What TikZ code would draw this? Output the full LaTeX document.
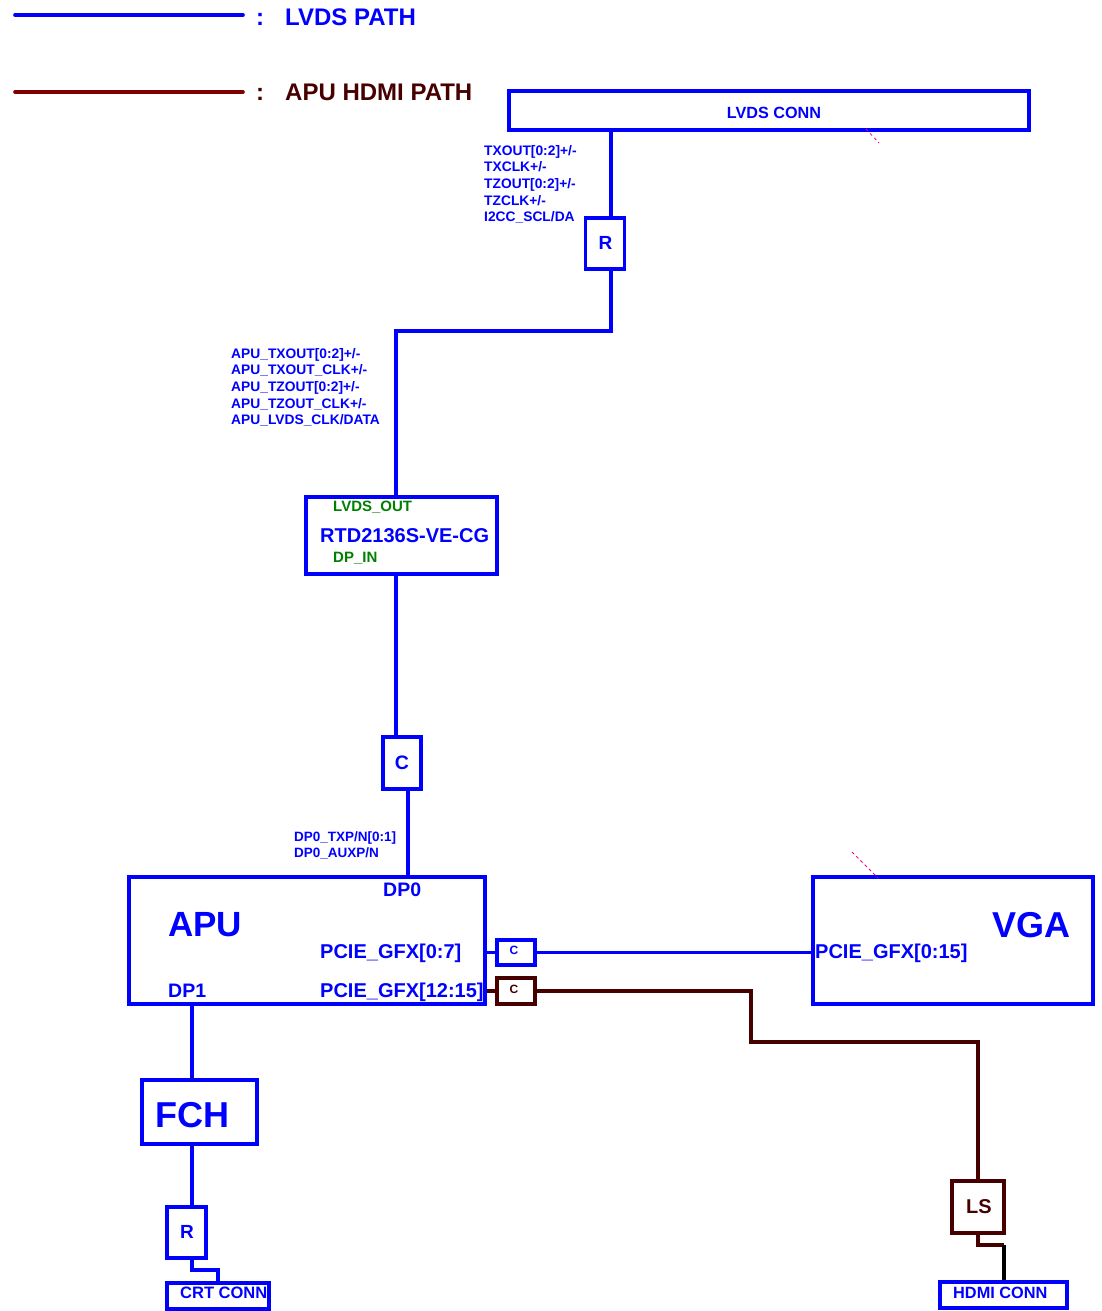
\documentclass[tikz,border=0pt]{standalone}
\usepackage{fontspec}
\setmainfont{Liberation Sans}
\definecolor{dkbrown}{RGB}{70,0,0}
\definecolor{legred}{RGB}{128,0,0}
\definecolor{grn}{RGB}{0,128,0}
\newcommand{\myfs}[1]{\fontsize{#1}{#1}\selectfont\bfseries}
\tikzset{
  bbox/.style={draw=blue, line width=3.6pt, inner sep=0pt},
  rbox/.style={draw=dkbrown, line width=3.6pt, inner sep=0pt},
  bl/.style={draw=blue, line width=3.6pt},
  br/.style={draw=dkbrown, line width=3.6pt},
  t/.style={inner sep=0pt, anchor=base west, text=blue},
  tc/.style={inner sep=0pt, anchor=base, text=blue},
  mag/.style={draw=magenta, line width=0.8pt, dash pattern=on 3pt off 3pt}
}
\begin{document}
\begin{tikzpicture}[x=1pt,y=-1pt]
\useasboundingbox (0,0) rectangle (1102,1311);
% legend
\coordinate (l1a) at (15,15);
\coordinate (l1b) at (243,15);
\coordinate (l2a) at (15,92);
\coordinate (l2b) at (243,92);
\draw[bl, line cap=round] (l1a) -- (l1b);
\draw[draw=legred, line width=3.6pt, line cap=round] (l2a) -- (l2b);
\node[t] (c1t) at (256,26) {\myfs{24}:};
\node[t] (leg1) at (285,26) {\myfs{24}LVDS PATH};
\node[t, text=dkbrown] (c2t) at (256,101) {\myfs{24}:};
\node[t, text=dkbrown] (leg2) at (285,101) {\myfs{24}APU HDMI PATH};
% boxes
\node[bbox, minimum width=520, minimum height=39] (lvds) at (769,110.5) {};
\node[bbox, minimum width=39, minimum height=51] (r1) at (605,243.5) {};
\node[bbox, minimum width=191, minimum height=77] (rtd) at (401.5,535.5) {};
\node[bbox, minimum width=38, minimum height=52] (c1) at (402,763) {};
\node[bbox, minimum width=356, minimum height=127] (apu) at (307,940.5) {};
\node[bbox, minimum width=38, minimum height=25] (cb) at (516,952.5) {};
\node[rbox, minimum width=38, minimum height=26] (cr) at (516,991) {};
\node[bbox, minimum width=280, minimum height=127] (vga) at (953,940.5) {};
\node[bbox, minimum width=115, minimum height=64] (fch) at (199.5,1112) {};
\node[bbox, minimum width=39, minimum height=51] (r2) at (186.5,1232.5) {};
\node[bbox, minimum width=102, minimum height=26] (crt) at (218,1296) {};
\node[rbox, minimum width=52, minimum height=52] (ls) at (978,1207) {};
\node[bbox, minimum width=127, minimum height=26] (hdmi) at (1003.5,1295) {};
% texts
\node[tc] (tlvds) at (774,119) {\myfs{16.2}LVDS CONN};
\node[tc] (tr1) at (605.5,249) {\myfs{19}R};
\foreach \s [count=\i] in {TXOUT[0:2]+/-,TXCLK+/-,TZOUT[0:2]+/-,TZCLK+/-,I2CC\_SCL/DA}
  \node[t] (tx\i) at (484,{155+16.7*(\i-1)}) {\myfs{13.8}\s};
\foreach \s [count=\i] in {APU\_TXOUT[0:2]+/-,APU\_TXOUT\_CLK+/-,APU\_TZOUT[0:2]+/-,APU\_TZOUT\_CLK+/-,APU\_LVDS\_CLK/DATA}
  \node[t] (ax\i) at (231,{358+16.7*(\i-1)}) {\myfs{13.8}\s};
\node[t, text=grn] (tlo) at (333,511) {\myfs{15}LVDS\_OUT};
\node[t] (trtd) at (320,542) {\myfs{20}RTD2136S-VE-CG};
\node[t, text=grn] (tdpin) at (333,562) {\myfs{15}DP\_IN};
\node[tc] (tc1) at (402,769) {\myfs{19.5}C};
\node[t] (dp0a) at (294,841) {\myfs{13.5}DP0\_TXP/N[0:1]};
\node[t] (dp0b) at (294,857) {\myfs{13.5}DP0\_AUXP/N};
\node[t] (tapu) at (168,936) {\myfs{35}APU};
\node[t] (tdp0) at (383,896) {\myfs{19.5}DP0};
\node[t] (tpg1) at (320,958) {\myfs{20}PCIE\_GFX[0:7]};
\node[t] (tdp1) at (168,997) {\myfs{19.5}DP1};
\node[t] (tpg2) at (320,997) {\myfs{20}PCIE\_GFX[12:15]};
\node[tc] (tcb) at (514,954) {\myfs{12}C};
\node[tc, text=dkbrown] (tcr) at (514,993) {\myfs{12}C};
\node[t] (tvga) at (992,937) {\myfs{36}VGA};
\node[t] (tpg3) at (815,958) {\myfs{20}PCIE\_GFX[0:15]};
\node[t] (tfch) at (155,1127) {\myfs{36}FCH};
\node[tc] (tr2) at (187,1238) {\myfs{19}R};
\node[t] (tcrt) at (180,1298.5) {\myfs{16.5}CRT CONN};
\node[tc, text=dkbrown] (tls) at (979,1213) {\myfs{20}LS};
\node[t] (thdmi) at (953,1298) {\myfs{16.3}HDMI CONN};
% connector coordinates
\coordinate (j1) at (611,331);
\coordinate (j2) at (396,331);
\coordinate (j3) at (408,830);
\coordinate (j4) at (751,1042);
\coordinate (j5) at (192,1050);
\coordinate (j6) at (192,1270);
\coordinate (j7) at (218,1270);
\coordinate (j8) at (978,1245);
\coordinate (j9) at (1004,1245);
% connectors
\draw[bl] (lvds.south -| j1) -- (r1.north -| j1);
\draw[bl] (r1.south -| j1) -- (j1) -- (j2) -- (rtd.north -| j2);
\draw[bl] (rtd.south -| j2) -- (c1.north -| j2);
\draw[bl] (c1.south -| j3) -- (apu.north -| j3);
\draw[bl] (apu.east |- cb) -- (cb.west);
\draw[bl] (cb.east) -- (vga.west |- cb);
\draw[br] (apu.east |- cr) -- (cr.west);
\draw[br] (cr.east) -- (cr.east -| j4) -- (j4) -- (j4 -| ls.north) -- (ls.north);
\draw[bl] (apu.south -| j5) -- (fch.north -| j5);
\draw[bl] (fch.south -| j5) -- (r2.north -| j5);
\draw[bl] (r2.south -| j6) -- (j6) -- (j7) -- (crt.north -| j7);
\draw[br] (ls.south) -- (j8) -- (j9);
\draw[draw=black, line width=3.6pt] (j9) -- (hdmi.north -| j9);
% small magenta marks
\draw[mag] (866,129) -- (879,143);
\draw[mag] (852,852) -- (878,878);
\end{tikzpicture}
\end{document}
